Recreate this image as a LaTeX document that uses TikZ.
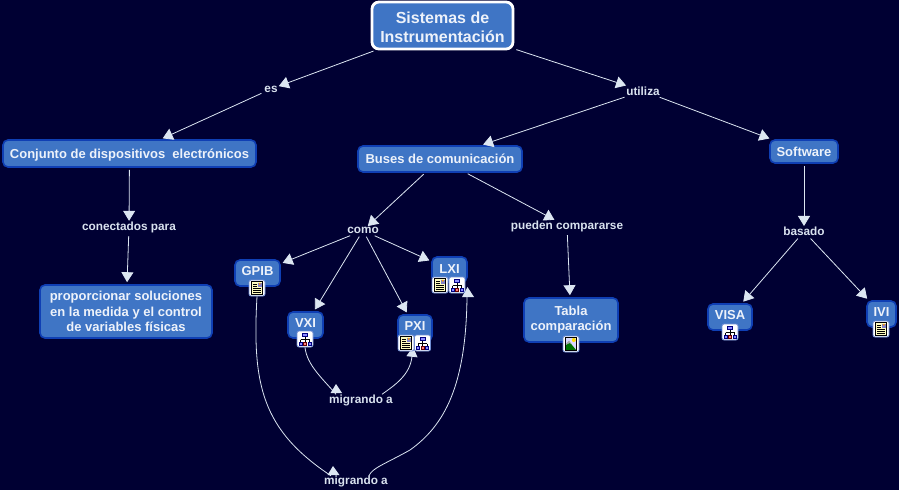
\documentclass[tikz,border=0pt]{standalone}
\usepackage{fontspec}
\setmainfont{Liberation Sans}
\usetikzlibrary{arrows.meta}
\definecolor{bgc}{HTML}{000033}
\definecolor{boxc}{HTML}{3F75C5}
\definecolor{edgec}{HTML}{0F3FB4}
\definecolor{linkc}{HTML}{DCE6F2}
\definecolor{labc}{HTML}{D9E2EF}
\definecolor{txtc}{HTML}{EDF2FA}
\tikzset{
  box/.style={draw=edgec,line width=1.6pt,fill=boxc,rounded corners=5pt,inner sep=0pt,align=center,
    text=txtc,font=\fontsize{13}{15}\selectfont\bfseries},
  onetext/.style={text height=9pt,text depth=0pt},
  icontext/.style={text height=9pt,text depth=4.5pt},
  rootbox/.style={box,draw=white,line width=2.8pt,rounded corners=7pt,font=\fontsize{16}{19}\selectfont\bfseries},
  lab/.style={text=labc,font=\fontsize{11.8}{13}\selectfont\bfseries,inner sep=1pt},
  link/.style={draw=linkc,line width=0.8pt},
  arr/.style={link,shorten <=2pt,shorten >=2pt,-{Triangle[length=10pt,width=12pt,fill=linkc]}},
  larr/.style={arr,shorten >=0pt},
  iconbox/.style={draw=edgec!60!white,line width=0.8pt,fill=white,rounded corners=2pt,minimum size=16pt,inner sep=0pt},
  tip/.style={fill=linkc,draw=none},
  docpic/.pic={
    \fill[yellow!25!white] (-5.5,-6.5) rectangle (5.5,6.5);
    \draw[black,line width=0.6pt] (-5.5,-6.5) rectangle (5.5,6.5);
    \fill[gray!60!blue!70] (0.5,-5.5) rectangle (4.5,-1);
    \fill[orange!80!yellow] (2.8,-4.2) circle (1);
    \draw[black,line width=0.7pt] (-4,-4)--(-0.5,-4) (-4,-2)--(-0.5,-2) (-4,0.5)--(4,0.5) (-4,2.6)--(4,2.6) (-4,4.6)--(4,4.6);
  },
  mappic/.pic={
    \draw[black,line width=0.5pt] (0,-3)--(0,3) (-4.5,0.5)--(4.5,0.5) (-4.5,0.5)--(-4.5,3) (4.5,0.5)--(4.5,3);
    \filldraw[fill=blue!45!white,draw=blue!50!black,line width=0.6pt] (-2.5,-6) rectangle (2.5,-3);
    \filldraw[fill=blue!45!white,draw=blue!50!black,line width=0.6pt] (-6,3) rectangle (-3,6);
    \filldraw[fill=red!50!white,draw=red!40!black,line width=0.6pt] (-1.5,3) rectangle (1.5,6);
    \filldraw[fill=blue!45!white,draw=blue!50!black,line width=0.6pt] (3,3) rectangle (6,6);
  },
  imgpic/.pic={
    \fill[blue!15!white] (-5.5,-6.5) rectangle (5.5,6.5);
    \fill[yellow!80!orange] (2.8,-4) circle (2);
    \fill[green!45!black] (-5.5,6.5) -- (-5.5,1) -- (-1,-1.5) -- (5.5,6.5) -- cycle;
    \fill[gray!70] (-5.5,0) -- (-2,-3.5) -- (0.5,0) -- (-1.5,-1) -- (-5.5,1) -- cycle;
    \draw[black,line width=0.6pt] (-5.5,-6.5) rectangle (5.5,6.5);
  }
}
\begin{document}
\begin{tikzpicture}[x=1pt,y=-1pt]
\useasboundingbox[fill=bgc] (0,0) rectangle (899,490);
% concepts
\node[rootbox,minimum width=141pt,minimum height=47pt] (root) at (442.5,25.5) {\rule{0pt}{16pt}Sistemas de\\Instrumentación};
\node[box,onetext,minimum width=253pt,minimum height=27pt] (conj) at (129.5,153.5) {Conjunto de dispositivos\ \ electrónicos};
\node[box,onetext,minimum width=164pt,minimum height=26pt] (buses) at (440,159) {Buses de comunicación};
\node[box,onetext,minimum width=68pt,minimum height=23pt] (soft) at (804,151.5) {Software};
\node[box,minimum width=172pt,minimum height=53pt,font=\fontsize{13}{15.5}\selectfont\bfseries] (prop) at (126,311.5) {proporcionar soluciones\\en la medida y el control\\de variables físicas};
\node[box,icontext,minimum width=45pt,minimum height=26pt] (gpib) at (257.5,273) {GPIB};
\node[box,icontext,minimum width=35pt,minimum height=26pt] (vxi) at (305.5,325) {VXI};
\node[box,icontext,minimum width=34pt,minimum height=26pt] (pxi) at (415,328) {PXI};
\node[box,icontext,text depth=2pt,minimum width=35pt,minimum height=25pt] (lxi) at (449.5,269.5) {LXI};
\node[box,minimum width=94pt,minimum height=44pt] (tabla) at (571,320) {Tabla\\comparación};
\node[box,icontext,minimum width=44pt,minimum height=26pt] (visa) at (730,317) {VISA};
\node[box,icontext,minimum width=29pt,minimum height=26pt] (ivi) at (881.5,314) {IVI};
% linking phrases
\node[lab] (es) at (271,89) {es};
\node[lab] (utiliza) at (643,91) {utiliza};
\node[lab] (conect) at (129,227.5) {conectados para};
\node[lab] (como) at (363,230.5) {como};
\node[lab] (pueden) at (567,226.5) {pueden compararse};
\node[lab] (basado) at (804,231.5) {basado};
\node[lab] (ma1) at (361,400) {migrando a};
\node[lab] (ma2) at (356,481.5) {migrando a};
% connectors
\draw[larr] (root) -- (es);
\draw[arr] (es) -- (conj);
\draw[larr] (root) -- (utiliza);
\draw[arr] (utiliza) -- (buses);
\draw[arr] (utiliza) -- (soft);
\draw[larr] (conj) -- (conect);
\draw[arr] (conect) -- (prop);
\draw[larr] (buses) -- (como);
\draw[arr] (como) -- (gpib);
\draw[arr] (como) -- (vxi);
\draw[arr] (como) -- (pxi);
\draw[arr] (como) -- (lxi);
\draw[larr] (buses) -- (pueden);
\draw[arr] (pueden) -- (tabla);
\draw[larr] (soft) -- (basado);
\draw[arr] (basado) -- (visa);
\draw[arr] (basado) -- (ivi);
% icons
\node[iconbox] (i1) at (257,288) {}; \pic at (i1) {docpic};
\node[iconbox] (i2) at (305,339) {}; \pic at (i2) {mappic};
% curved connectors
\draw[link] (i2.south) .. controls (307,365) and (322,378) .. ([xshift=-25pt,yshift=-1pt]ma1.north);
\fill[tip] (336,384) -- (342,393) -- (330.5,393) -- cycle;
\draw[link,-{Triangle[length=10pt,width=11pt,fill=linkc]}] ([xshift=21pt,yshift=-1pt]ma1.north) .. controls (395,385) and (410,375) .. ([xshift=-2pt,yshift=-5pt]pxi.south);
\draw[link] (i1.south) .. controls (252,385) and (262,430) .. ([xshift=-25pt,yshift=-1pt]ma2.north);
\fill[tip] (333,466) -- (339.5,475) -- (327.5,475) -- cycle;
\draw[link] ([xshift=13pt,yshift=-1pt]ma2.north) .. controls (372,468) and (385,464) .. (410,450)
   .. controls (445,425) and (466,385) .. (467,297);
\fill[tip] (467.5,287) -- (474,297) -- (462,297) -- cycle;
\node[iconbox] (i3) at (406,343) {}; \pic at (i3) {docpic};
\node[iconbox] (i4) at (422.5,343) {}; \pic at (i4) {mappic};
\node[iconbox] (i5) at (440,285) {}; \pic at (i5) {docpic};
\node[iconbox] (i6) at (457,285) {}; \pic at (i6) {mappic};
\node[iconbox] (i7) at (571,344) {}; \pic at (i7) {imgpic};
\node[iconbox] (i8) at (730,332) {}; \pic at (i8) {mappic};
\node[iconbox] (i9) at (881,329) {}; \pic at (i9) {docpic};
\end{tikzpicture}
\end{document}
